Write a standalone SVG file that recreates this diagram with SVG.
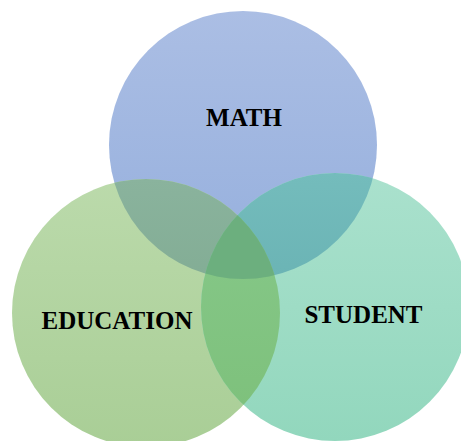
<svg xmlns="http://www.w3.org/2000/svg" width="461" height="441" viewBox="0 0 461 441">
<style>
.t{font-family:"Liberation Serif","Times New Roman",serif;font-weight:bold;font-size:25px;fill:#000;text-anchor:middle}
</style>
<defs>
<linearGradient id="gm" gradientUnits="userSpaceOnUse" x1="0" y1="11" x2="0" y2="279"><stop offset="0" stop-color="#abbee4"/><stop offset="1" stop-color="#95afdd"/></linearGradient>
<linearGradient id="ge" gradientUnits="userSpaceOnUse" x1="0" y1="179" x2="0" y2="447"><stop offset="0" stop-color="#bbdaab"/><stop offset="1" stop-color="#a9ce96"/></linearGradient>
<linearGradient id="gs" gradientUnits="userSpaceOnUse" x1="0" y1="173" x2="0" y2="441"><stop offset="0" stop-color="#aae1cd"/><stop offset="1" stop-color="#92d7bd"/></linearGradient>
<linearGradient id="gme" gradientUnits="userSpaceOnUse" x1="0" y1="179" x2="0" y2="279"><stop offset="0" stop-color="#8ab39d"/><stop offset="1" stop-color="#83ad95"/></linearGradient>
<linearGradient id="gms" gradientUnits="userSpaceOnUse" x1="0" y1="173" x2="0" y2="279"><stop offset="0" stop-color="#74bcbc"/><stop offset="1" stop-color="#6bb4b5"/></linearGradient>
<linearGradient id="ges" gradientUnits="userSpaceOnUse" x1="0" y1="210" x2="0" y2="410"><stop offset="0" stop-color="#86c889"/><stop offset="1" stop-color="#7ec17c"/></linearGradient>
<clipPath id="cm"><circle cx="243" cy="145" r="134"/></clipPath>
<clipPath id="ce"><circle cx="146" cy="313" r="134"/></clipPath>
</defs>
<rect width="461" height="441" fill="#fff"/>
<g id="math"><circle cx="243" cy="145" r="134" fill="url(#gm)"/></g>
<g id="education"><circle cx="146" cy="313" r="134" fill="url(#ge)"/></g>
<g id="student"><circle cx="335" cy="307" r="134" fill="url(#gs)"/></g>
<g id="overlaps">
<g clip-path="url(#cm)"><circle cx="146" cy="313" r="134" fill="url(#gme)"/><circle cx="335" cy="307" r="134" fill="url(#gms)"/></g>
<g clip-path="url(#ce)"><circle cx="335" cy="307" r="134" fill="url(#ges)"/></g>
<g clip-path="url(#cm)"><g clip-path="url(#ce)"><circle cx="335" cy="307" r="134" fill="#6caf7e"/></g></g>
</g>
<g id="labels">
<text class="t" x="244" y="126">MATH</text>
<text class="t" x="117" y="329">EDUCATION</text>
<text class="t" x="363.5" y="323">STUDENT</text>
</g>
<g id="connectors"/>
</svg>
